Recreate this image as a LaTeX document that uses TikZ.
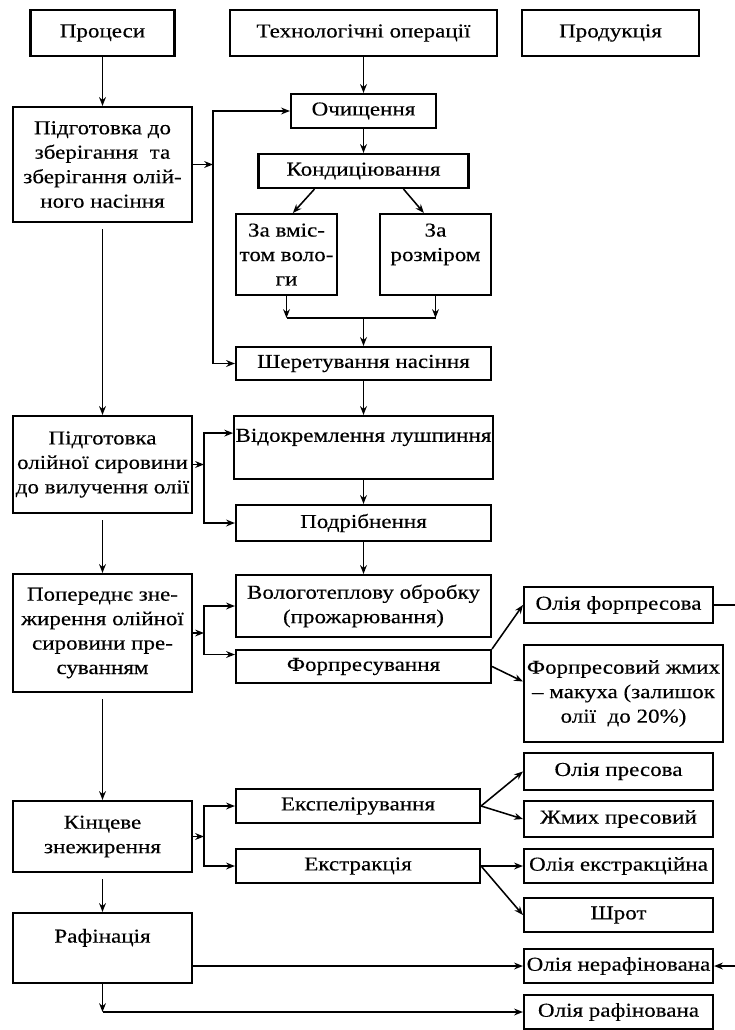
\documentclass[tikz,border=0pt]{standalone}
\usepackage{fontspec}
\setmainfont[FakeStretch=1.17, FakeBold=0.3]{Liberation Serif}
\usepackage{tikz}
\usetikzlibrary{positioning, arrows.meta}

\begin{document}
\begin{tikzpicture}[
    box/.style={rectangle, draw=black, line width=1.5pt, inner sep=1pt, align=center, font=\fontsize{14pt}{17.4pt}\selectfont},
    leftbox/.style={box, minimum width=4.475cm},
    midbox/.style={box, minimum width=6.375cm},
    outbox/.style={box, minimum width=4.725cm},
    arrow/.style={-{Stealth[length=2.2mm, width=1.7mm]}, line width=1.1pt}
]
\useasboundingbox (0,0) rectangle (18.35,-25.75);

% Headings
\node (proc) [box, minimum width=3.6cm, minimum height=1.15cm] at (2.5625,-0.825) {Процеси};
\node (tech) [box, minimum width=6.675cm, minimum height=1.15cm] at (9.0875,-0.825) {Технологічні операції};
\node (prod) [box, minimum width=4.425cm, minimum height=1.15cm] at (15.2625,-0.825) {Продукція};

% Processes
\node (pidg1) [leftbox, minimum height=2.875cm] at (2.5625,-4.1125) {Підготовка до\\зберігання\ \ та\\зберігання олій-\\ного насіння};
\node (pidg2) [leftbox, minimum height=2.425cm] at (2.5625,-11.6125) {Підготовка\\олійної сировини\\до вилучення олії};
\node (poper) [leftbox, minimum height=2.95cm] at (2.5625,-15.825) {Попереднє зне-\\жирення олійної\\сировини пре-\\суванням};
\node (kinc) [leftbox, minimum height=1.775cm] at (2.5625,-20.9125) {Кінцеве\\знежирення};
\node (raf) [leftbox, minimum height=1.75cm] at (2.5625,-23.7) {Рафінація\\\mbox{}};

% Technological operations
\node (och) [box, minimum width=3.625cm, minimum height=0.85cm] at (9.0875,-2.775) {Очищення};
\node (kond) [box, minimum width=5.25cm, minimum height=0.85cm] at (9.0875,-4.275) {Кондиціювання};
\node (vmist) [box, minimum width=2.525cm, minimum height=2.025cm] at (7.1625,-6.3625) {За вміс-\\том воло-\\ги};
\node (rozm) [box, minimum width=2.775cm, minimum height=2.025cm] at (10.8875,-6.3625) {За\\розміром\\\mbox{}};
\node (sher) [midbox, minimum height=0.825cm] at (9.0875,-9.0875) {Шеретування насіння};
\node (vidokr) [midbox, minimum height=1.575cm] at (9.0875,-11.1875) {Відокремлення лушпиння\\\mbox{}};
\node (podr) [midbox, minimum height=0.9cm] at (9.0875,-13.075) {Подрібнення};
\node (volog) [midbox, minimum height=1.55cm] at (9.0875,-15.15) {Вологотеплову обробку\\(прожарювання)};
\node (forpr) [midbox, minimum height=0.825cm] at (9.0875,-16.6625) {Форпресування};
\node (eksp) [box, minimum width=6.1cm, minimum height=0.85cm] at (8.95,-20.15) {Експелірування};
\node (ekstr) [box, minimum width=6.1cm, minimum height=0.85cm] at (8.95,-21.65) {Екстракція};

% Products
\node (ofp) [outbox, minimum height=0.9cm] at (15.4625,-15.125) {Олія форпресова};
\node (zhmf) [box, minimum width=4.975cm, minimum height=2.425cm] at (15.5875,-17.3375) {Форпресовий жмих\\– макуха (залишок\\олії\ \ до 20\%)};
\node (opr) [outbox, minimum height=0.925cm] at (15.4625,-19.2875) {Олія пресова};
\node (zhp) [outbox, minimum height=0.9cm] at (15.4625,-20.475) {Жмих пресовий};
\node (oekst) [outbox, minimum height=0.85cm] at (15.4625,-21.65) {Олія екстракційна};
\node (shrot) [outbox, minimum height=0.85cm] at (15.4625,-22.875) {Шрот};
\node (onr) [outbox, minimum height=0.85cm] at (15.4625,-24.15) {Олія нерафінована};
\node (orf) [outbox, minimum height=0.85cm] at (15.4625,-25.3) {Олія рафінована};

% Junctions
\coordinate (j1) at (5.325,-4.1125);
\coordinate (j2) at (5.1,-11.6125);
\coordinate (j3) at (5.1,-15.825);
\coordinate (j4) at (5.1,-20.9125);
\coordinate (m) at (9.0875,-7.95);

% Processes column
\draw [arrow] (proc) -- (pidg1);
\draw [arrow, shorten <=1.5mm] (pidg1) -- (pidg2);
\draw [arrow, shorten <=1.5mm] (pidg2) -- (poper);
\draw [arrow, shorten <=1.5mm] (poper) -- (kinc);
\draw [arrow, shorten <=1.5mm] (kinc) -- (raf);
\draw [arrow] (raf) -- (raf |- orf);
\draw [arrow] (raf |- orf) -- (orf);
\draw [arrow] (raf.east |- onr) -- (onr);

% Seed preparation
\draw [arrow] (tech) -- (och);
\draw [arrow] (och) -- (kond);
\draw [arrow] ([xshift=-1.225cm]kond.south) -- ([xshift=0.16cm]vmist.north);
\draw [arrow] ([xshift=1cm]kond.south) -- ([xshift=-0.29cm]rozm.north);
\draw [arrow] (vmist) -- (vmist |- m);
\draw [arrow] (rozm) -- (rozm |- m);
\draw [line width=1.1pt] (vmist |- m) -- (rozm |- m);
\draw [arrow] (m) -- (sher);
\draw [arrow] (pidg1) -- (j1);
\draw [arrow] (j1) |- (och);
\draw [arrow] (j1) |- (sher);

% Raw material preparation
\draw [arrow] (sher) -- (vidokr);
\draw [arrow] (pidg2) -- (j2);
\draw [arrow] (j2) |- ([yshift=0.36cm]vidokr.west);
\draw [arrow] (j2) |- (podr);
\draw [arrow] (vidokr) -- (podr);
\draw [arrow] (podr) -- (volog);

% Pre-pressing
\draw [arrow] (poper) -- (j3);
\draw [arrow] (j3) |- (volog);
\draw [arrow] (j3) |- ([yshift=0.3cm]forpr.west);
\draw [arrow] (forpr.north east) -- (ofp.west);
\draw [arrow] (forpr.east) -- ([yshift=0.3cm]zhmf.west);
\draw [arrow] (ofp) -- ++(3,0) |- (onr);

% Final defatting
\draw [arrow] (kinc) -- (j4);
\draw [arrow] (j4) |- (eksp);
\draw [arrow] (j4) |- (ekstr);
\draw [arrow] (eksp.east) -- (opr.west);
\draw [arrow] (eksp.east) -- (zhp.west);
\draw [arrow] (ekstr) -- (oekst);
\draw [arrow] (ekstr.east) -- (shrot.west);

\end{tikzpicture}
\end{document}
